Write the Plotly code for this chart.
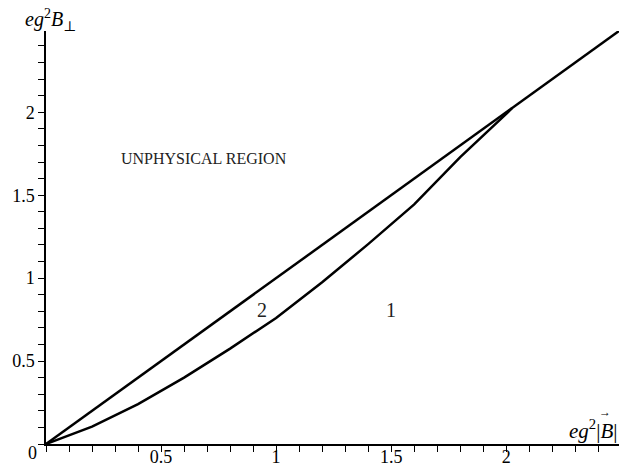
import plotly.graph_objects as go

# Data
diag_x = [0.0, 2.49]
diag_y = [0.0, 2.49]

curve_x = [0.0, 0.2, 0.4, 0.6, 0.8, 1.0, 1.2, 1.4, 1.6, 1.8, 2.0, 2.025]
curve_y = [0.0, 0.105, 0.24, 0.40, 0.575, 0.76, 0.975, 1.205, 1.445, 1.73, 1.99, 2.025]

tick_vals = [0.5, 1, 1.5, 2]
tick_text = ["0.5", "1", "1.5", "2"]

region_labels = ["UNPHYSICAL REGION", "2", "1"]
region_x = [0.687, 0.94, 1.50]
region_y = [1.72, 0.81, 0.81]

FONT = "Liberation Serif, Times New Roman, DejaVu Serif, serif"

fig = go.Figure()
fig.add_trace(go.Scatter(x=diag_x, y=diag_y, mode="lines",
                         line=dict(color="black", width=2.5), cliponaxis=False,
                         showlegend=False, hoverinfo="skip"))
fig.add_trace(go.Scatter(x=curve_x, y=curve_y, mode="lines",
                         line=dict(color="black", width=2.5), cliponaxis=False,
                         showlegend=False, hoverinfo="skip"))

axis_common = dict(
    showgrid=False, zeroline=False, showline=True, linecolor="black", linewidth=1.5,
    ticks="outside", ticklen=6, tickwidth=1, tickcolor="black",
    tickmode="array", tickvals=tick_vals, ticktext=tick_text,
    tickfont=dict(family=FONT, size=18, color="black"),
    minor=dict(tickmode="linear", tick0=0, dtick=0.1, ticks="outside",
               ticklen=6, tickwidth=1, tickcolor="black"),
    range=[0, 2.49], fixedrange=True, automargin=False,
)
fig.update_xaxes(**axis_common, ticklabelstandoff=-10)
fig.update_yaxes(**axis_common)

annotations = []
sizes = [16, 20, 20]
for t, x, y, s in zip(region_labels, region_x, region_y, sizes):
    annotations.append(dict(x=x, y=y, xref="x", yref="y", text=t, showarrow=False,
                            xanchor="center", yanchor="middle",
                            font=dict(family=FONT, size=s, color="#222")))
annotations.append(dict(x=-0.0244, y=-0.0218, xref="paper", yref="paper", text="0",
                        xanchor="center", yanchor="middle",
                        showarrow=False, font=dict(family=FONT, size=18, color="black")))
annotations.append(dict(x=-0.040, y=1.026, xref="paper", yref="paper",
                        xanchor="left", yanchor="middle",
                        text="<i>eg</i><sup>2</sup><i>B</i><sub>⊥</sub>", showarrow=False,
                        font=dict(family=FONT, size=20, color="black")))
annotations.append(dict(x=1.0, y=0.036, xref="paper", yref="paper", xanchor="right",
                        yanchor="middle",
                        text="<i>eg</i><sup>2</sup>|<i>B</i>|", showarrow=False,
                        font=dict(family=FONT, size=21, color="black")))
annotations.append(dict(x=0.975, y=0.078, xref="paper", yref="paper",
                        xanchor="center", yanchor="middle",
                        text="→", showarrow=False,
                        font=dict(family=FONT, size=12, color="black")))

fig.update_layout(
    width=623, height=457,
    margin=dict(l=38, r=12, t=23, b=21),
    plot_bgcolor="white", paper_bgcolor="white",
    annotations=annotations,
    showlegend=False,
)

fig.write_html("out.html")
